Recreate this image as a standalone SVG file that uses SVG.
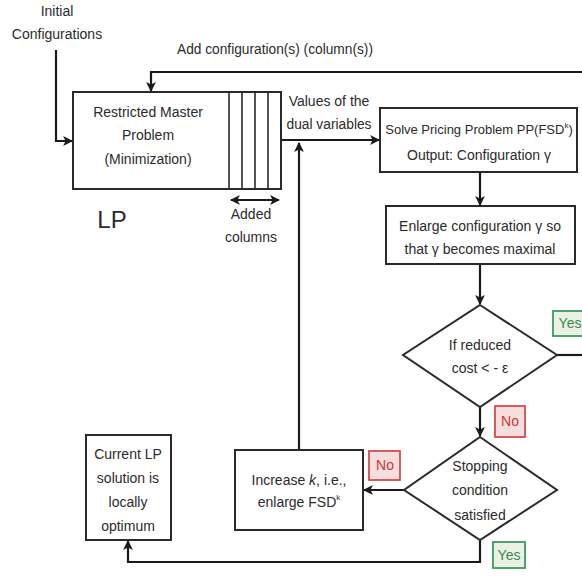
<svg xmlns="http://www.w3.org/2000/svg" width="582" height="577" viewBox="0 0 582 577">
  <defs>
    <marker id="arrow" viewBox="0 0 10 10" refX="9" refY="5" markerWidth="4.5" markerHeight="4.5" orient="auto-start-reverse" markerUnits="strokeWidth">
      <path d="M0,0 L10,5 L0,10 L2.5,5 Z" fill="#1a1a1a"/>
    </marker>
    <style>
      .box { fill: #ffffff; stroke: #2a2a2a; stroke-width: 2; }
      .col { fill: none; stroke: #2a2a2a; stroke-width: 1.6; }
      .wire { fill: none; stroke: #1a1a1a; stroke-width: 2.2; }
      .t { font-family: "Liberation Sans", Arial, sans-serif; font-size: 14px; fill: #2b2b2b; text-anchor: middle; dominant-baseline: middle; }
      .yesbox { fill: #e9f2e4; stroke: #3d9a5e; stroke-width: 1.8; }
      .nobox { fill: #f7dede; stroke: #d44c4c; stroke-width: 1.8; }
      .yes { fill: #3a8a4c; }
      .no { fill: #cf3535; }
    </style>
  </defs>

  <!-- connectors -->
  <g id="connectors">
    <!-- initial configurations into the master problem -->
    <path class="wire" d="M56,50 V141 H72" marker-end="url(#arrow)"/>
    <!-- added configurations fed back to the master problem -->
    <path class="wire" d="M582,72 H151 V91" marker-end="url(#arrow)"/>
    <!-- dual values to pricing problem -->
    <path class="wire" d="M282,140 H379" marker-end="url(#arrow)"/>
    <!-- increase k loops back up -->
    <path class="wire" d="M299,450 V143" marker-end="url(#arrow)"/>
    <!-- pricing to enlarge -->
    <path class="wire" d="M480,173 V205" marker-end="url(#arrow)"/>
    <!-- enlarge to reduced-cost test -->
    <path class="wire" d="M480,265 V304" marker-end="url(#arrow)"/>
    <!-- yes branch to the right -->
    <path class="wire" d="M557,355 H582"/>
    <!-- no branch down -->
    <path class="wire" d="M480,407 V436" marker-end="url(#arrow)"/>
    <!-- stopping: no -> increase k -->
    <path class="wire" d="M404,490 H364" marker-end="url(#arrow)"/>
    <!-- stopping: yes -> locally optimum -->
    <path class="wire" d="M480,540 V562 H128 V541" marker-end="url(#arrow)"/>
    <!-- added columns span -->
    <path class="wire" d="M231,200 H279" stroke-width="1.8" marker-start="url(#arrow)" marker-end="url(#arrow)"/>
  </g>

  <g id="initial-label">
    <text class="t" x="57" y="12">Initial</text>
    <text class="t" x="57" y="35">Configurations</text>
  </g>

  <g id="add-label">
    <text class="t" x="275" y="50" textLength="196" lengthAdjust="spacingAndGlyphs">Add configuration(s) (column(s))</text>
  </g>

  <g id="master-problem">
    <rect class="box" x="73" y="92" width="208" height="97"/>
    <line class="col" x1="229" y1="92" x2="229" y2="189"/>
    <line class="col" x1="242" y1="92" x2="242" y2="189"/>
    <line class="col" x1="255" y1="92" x2="255" y2="189"/>
    <line class="col" x1="268" y1="92" x2="268" y2="189"/>
    <text class="t" x="148" y="113">Restricted Master</text>
    <text class="t" x="148" y="136">Problem</text>
    <text class="t" x="148" y="160">(Minimization)</text>
  </g>

  <g id="lp-label">
    <text class="t" x="112" y="222" style="font-size:24px">LP</text>
  </g>

  <g id="added-columns">
    <text class="t" x="251" y="215">Added</text>
    <text class="t" x="251" y="238">columns</text>
  </g>

  <g id="dual-label">
    <text class="t" x="329" y="102">Values of the</text>
    <text class="t" x="329" y="125" textLength="85" lengthAdjust="spacingAndGlyphs">dual variables</text>
  </g>

  <g id="pricing">
    <rect class="box" x="380" y="108" width="197" height="64"/>
    <text class="t" x="479" y="131" style="font-size:13px">Solve Pricing Problem PP(FSD<tspan font-size="8" dy="-5">k</tspan><tspan dy="5">)</tspan></text>
    <text class="t" x="479" y="156">Output: Configuration γ</text>
  </g>

  <g id="enlarge">
    <rect class="box" x="386" y="206" width="189" height="58"/>
    <text class="t" x="480" y="227">Enlarge configuration γ so</text>
    <text class="t" x="480" y="250">that γ becomes maximal</text>
  </g>

  <g id="reduced-cost">
    <polygon class="box" points="480,305 557,355 480,407 403,355"/>
    <text class="t" x="480" y="346">If reduced</text>
    <text class="t" x="480" y="369">cost &lt; - ε</text>
  </g>

  <g id="yes-top">
    <rect class="yesbox" x="553" y="311" width="34" height="25"/>
    <text class="t yes" x="570" y="324">Yes</text>
  </g>

  <g id="no-mid">
    <rect class="nobox" x="495" y="406" width="30" height="31"/>
    <text class="t no" x="510" y="422">No</text>
  </g>

  <g id="stopping">
    <polygon class="box" points="480,437 557,490 480,540 404,490"/>
    <text class="t" x="480" y="467">Stopping</text>
    <text class="t" x="480" y="491">condition</text>
    <text class="t" x="480" y="516">satisfied</text>
  </g>

  <g id="no-left">
    <rect class="nobox" x="369" y="451" width="31" height="29"/>
    <text class="t no" x="385" y="466">No</text>
  </g>

  <g id="yes-bottom">
    <rect class="yesbox" x="493" y="542" width="32" height="26"/>
    <text class="t yes" x="509" y="556">Yes</text>
  </g>

  <g id="increase-k">
    <rect class="box" x="235" y="450" width="128" height="80"/>
    <text class="t" x="299" y="481">Increase <tspan font-style="italic">k</tspan>, i.e.,</text>
    <text class="t" x="299" y="503">enlarge FSD<tspan font-size="8" dy="-5">k</tspan></text>
  </g>

  <g id="locally-optimum">
    <rect class="box" x="86" y="435" width="85" height="105"/>
    <text class="t" x="128" y="455">Current LP</text>
    <text class="t" x="128" y="479">solution is</text>
    <text class="t" x="128" y="503">locally</text>
    <text class="t" x="128" y="527">optimum</text>
  </g>
</svg>
